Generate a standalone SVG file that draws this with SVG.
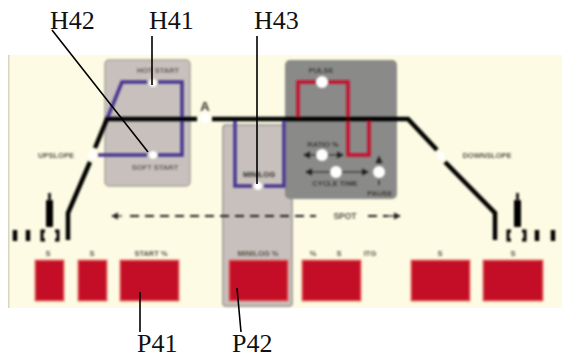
<svg xmlns="http://www.w3.org/2000/svg" width="562" height="358" viewBox="0 0 562 358">
<style>
.cap{font-family:"Liberation Serif",serif;font-size:26px;fill:#111}
.sm{font-family:"Liberation Sans",sans-serif;font-size:7.5px;font-weight:bold;fill:#55534a}
.smd{font-family:"Liberation Sans",sans-serif;font-size:7.5px;font-weight:bold;fill:#2c2b28}
.lead{stroke:#000;stroke-width:1.6;fill:none}
.blk{stroke:#000;stroke-width:4.5;fill:none}
.blu{stroke:#46358f;stroke-width:3.5;fill:none}
.red{stroke:#c8102e;stroke-width:3.5;fill:none}
.key{fill:#c40a25;stroke:#ee7a70;stroke-width:1}
.dot{fill:#fff}
.dash{stroke:#222;stroke-width:1.8;stroke-dasharray:9 6;fill:none}
.ar{stroke:#222;stroke-width:1.2;fill:none}
.soft{filter:url(#b)}
</style>
<defs>
<filter id="b" x="0" y="0" width="562" height="358" filterUnits="userSpaceOnUse"><feGaussianBlur stdDeviation="0.8"/></filter>
<marker id="ah" markerWidth="6" markerHeight="6" refX="5" refY="3" orient="auto-start-reverse"><path d="M0 0L6 3L0 6z" fill="#222"/></marker>
</defs>
<rect x="8" y="55" width="554" height="253" fill="#fdfbe3"/>
<rect x="8" y="55" width="1.5" height="253" fill="#d8d6c0"/>
<g id="hotstart-panel" class="soft"><rect x="105" y="60" width="85" height="126" rx="4" fill="#c7c0bc" stroke="#a9a5a0" stroke-width="1.5"/>
<text class="sm" x="158" y="73" text-anchor="middle">HOT START</text><text class="sm" x="155" y="170" text-anchor="middle">SOFT START</text></g>
<g id="minilog-panel" class="soft"><rect x="223" y="125" width="69" height="181" rx="3" fill="#c7c0bc" stroke="#a9a5a0" stroke-width="2"/></g>
<g id="pulse-panel" class="soft"><rect x="285" y="60" width="112" height="139" rx="5" fill="#8a8a88"/>
<text class="smd" x="321" y="73" text-anchor="middle">PULSE</text>
<text class="smd" x="323" y="147" text-anchor="middle">RATIO %</text>
<text class="smd" x="335" y="186" text-anchor="middle">CYCLE TIME</text>
<text class="smd" x="380" y="196" text-anchor="middle">PAUSE</text></g>
<g id="connectors" class="soft">
<path class="blu" d="M107 119L122 82H147M158 82H182V155H158M147 155H98"/>
<path class="blu" d="M235 118V186H252M264 186H284V120"/>
<path class="red" d="M298 118V82H316M328 82H348V155H369V118"/>
<path class="blk" d="M95 148L107 119H197M212 119H408L437 150M445 162L495 213V240"/>
<path class="blk" d="M90 162L68 213V240"/>
<path class="dash" d="M130 216H316M368 216H388"/>
<path class="ar" marker-start="url(#ah)" d="M112 216H122"/>
<path class="ar" marker-end="url(#ah)" d="M388 216H400"/>
<path class="ar" marker-start="url(#ah)" marker-end="url(#ah)" d="M304 155H343"/>
<path class="ar" marker-start="url(#ah)" marker-end="url(#ah)" d="M306 172H368"/>
<path class="ar" marker-start="url(#ah)" d="M379 157V164"/>
<path class="ar" d="M379 180V185"/>
</g>
<g id="markers" class="soft">
<circle class="dot" cx="153" cy="83" r="4"/><circle class="dot" cx="153" cy="155" r="4"/><circle class="dot" cx="92" cy="155" r="4"/>
<circle class="dot" cx="258" cy="186" r="4"/><circle class="dot" cx="322" cy="82" r="6"/><circle class="dot" cx="322" cy="155" r="6"/><circle class="dot" cx="336" cy="172" r="6"/><circle class="dot" cx="379" cy="172" r="6"/>
<circle class="dot" cx="441" cy="156" r="4"/><circle class="dot" cx="205" cy="118" r="5"/>
<text x="205" y="111" text-anchor="middle" font-family="Liberation Sans,sans-serif" font-size="13" font-weight="bold" fill="#33322e">A</text>
<text class="sm" x="56" y="158" text-anchor="middle">UPSLOPE</text>
<text class="sm" x="487" y="158" text-anchor="middle">DOWNSLOPE</text>
<text class="smd" x="259" y="177" text-anchor="middle">MINILOG</text>
<text x="345" y="219" font-family="Liberation Sans,sans-serif" font-size="8.5" font-weight="bold" fill="#55534a" text-anchor="middle">SPOT</text>
</g>
<g id="plugs" class="soft">
<rect x="46" y="200" width="7" height="27" rx="1" fill="#000"/><rect x="48" y="193" width="3" height="8" fill="#222"/>
<rect x="514" y="200" width="7" height="27" rx="1" fill="#000"/><rect x="516" y="193" width="3" height="8" fill="#222"/>
<path d="M15 230v11M28 230v11M537 230v11M553 230v11" stroke="#000" stroke-width="4.5" fill="none"/>
<path d="M45 231h-3v9h3M55 231h3v9h-3M511 231h-3v9h3M522 231h3v9h-3" stroke="#000" stroke-width="3" fill="none"/>
</g>
<g id="keys" class="soft">
<rect class="key" x="35" y="260" width="29" height="41"/><rect class="key" x="78" y="260" width="29" height="41"/><rect class="key" x="120" y="260" width="59" height="41"/><rect class="key" x="229" y="260" width="59" height="41"/><rect class="key" x="302" y="260" width="59" height="41"/><rect class="key" x="411" y="260" width="59" height="41"/><rect class="key" x="483" y="260" width="60" height="41"/>
<text class="sm" x="48" y="256" text-anchor="middle">S</text><text class="sm" x="92" y="256" text-anchor="middle">S</text><text class="sm" x="151" y="256" text-anchor="middle">START %</text><text class="sm" x="258" y="256" text-anchor="middle">MINILOG %</text><text class="sm" x="313" y="256" text-anchor="middle">%</text><text class="sm" x="339" y="256" text-anchor="middle">S</text><text class="sm" x="370" y="256" text-anchor="middle">ITG</text><text class="sm" x="440" y="256" text-anchor="middle">S</text><text class="sm" x="513" y="256" text-anchor="middle">S</text>
</g>
<g id="callouts">
<path class="lead" d="M52 30L148 152M152 36V85M257 36V184M140 292V332M237 288L241 332"/>
<text class="cap" x="50" y="29">H42</text><text class="cap" x="149" y="29">H41</text><text class="cap" x="254" y="29">H43</text>
<text class="cap" x="137" y="352">P41</text><text class="cap" x="232" y="352">P42</text>
</g>
</svg>
